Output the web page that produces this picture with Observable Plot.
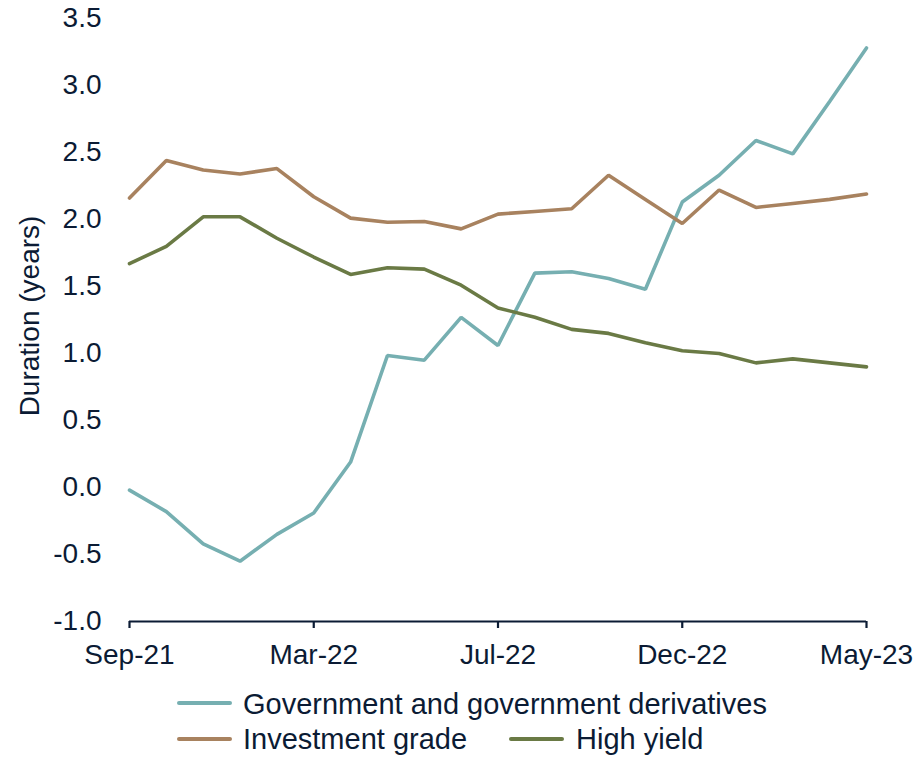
<!DOCTYPE html>
<html>
<head>
<meta charset="utf-8">
<script src="https://cdn.jsdelivr.net/npm/d3@7"></script>
<script src="https://cdn.jsdelivr.net/npm/@observablehq/plot@0.6"></script>
<style>
  html, body { margin: 0; padding: 0; background: #fff; }
  body { width: 923px; height: 757px; overflow: hidden; font-family: "Liberation Sans", Arial, sans-serif; color: #0B1B34; }
  #wrap { position: relative; width: 923px; height: 757px; }
  .legend { position: absolute; left: 0; top: 0; width: 923px; height: 757px; pointer-events: none; }
  .sw { position: absolute; height: 4px; border-radius: 2px; }
  .lt { position: absolute; font-size: 29px; line-height: 32px; white-space: nowrap; color: #0B1B34; }
</style>
</head>
<body>
<div id="wrap"></div>
<script>
const categories = ["Sep-21","Oct-21","Nov-21","Dec-21","Jan-22","Mar-22","Apr-22","May-22","Jun-22","Jun-22b","Jul-22","Aug-22","Sep-22","Oct-22","Nov-22","Dec-22","Jan-23","Feb-23","Mar-23","Apr-23","May-23"];
const tickIndex = [0, 5, 10, 15, 20];
const tickLabels = ["Sep-21", "Mar-22", "Jul-22", "Dec-22", "May-23"];
const yTicks = [-1.0, -0.5, 0.0, 0.5, 1.0, 1.5, 2.0, 2.5, 3.0, 3.5];

const government = [-0.02, -0.18, -0.42, -0.55, -0.35, -0.19, 0.19, 0.985, 0.95, 1.27, 1.06, 1.60, 1.61, 1.56, 1.48, 2.13, 2.33, 2.59, 2.49, 2.88, 3.28];
const investmentGrade = [2.16, 2.44, 2.37, 2.34, 2.38, 2.17, 2.01, 1.98, 1.985, 1.93, 2.04, 2.06, 2.08, 2.33, 2.15, 1.97, 2.22, 2.09, 2.12, 2.15, 2.19];
const highYield = [1.67, 1.80, 2.02, 2.02, 1.86, 1.72, 1.59, 1.64, 1.63, 1.51, 1.34, 1.27, 1.18, 1.15, 1.08, 1.02, 1.00, 0.93, 0.96, 0.93, 0.90];

const seriesNames = ["Government and government derivatives", "Investment grade", "High yield"];
const seriesColors = ["#76AFB1", "#A8825F", "#6A7A45"];
const seriesValues = [government, investmentGrade, highYield];

const data = [];
seriesValues.forEach((vals, s) => vals.forEach((v, i) => data.push({series: seriesNames[s], i, v})));

const navy = "#0B1B34";

const chart = Plot.plot({
  width: 923,
  height: 680,
  marginLeft: 129,
  marginRight: 57,
  marginTop: 18,
  marginBottom: 59,
  style: { fontFamily: "'Liberation Sans', Arial, sans-serif", fontSize: "28px", color: navy, background: "#fff" },
  x: { domain: [0, categories.length - 1] },
  y: { domain: [-1, 3.5] },
  color: { domain: seriesNames, range: seriesColors },
  marks: [
    Plot.axisY({ ticks: yTicks, tickSize: 0, tickPadding: 28, tickFormat: d => d.toFixed(1), label: null, fill: navy, fontSize: 28 }),
    Plot.text(["Duration (years)"], { frameAnchor: "left", rotate: -90, dx: -99, dy: -4, fill: navy, fontSize: 28, textAnchor: "middle", lineAnchor: "middle" }),
    Plot.line(data, { x: "i", y: "v", z: "series", stroke: "series", strokeWidth: 3.6, strokeLinejoin: "miter", curve: "linear" }),
    Plot.ruleY([-1], { stroke: navy, strokeWidth: 2.2 }),
    Plot.axisX({ ticks: tickIndex, tickFormat: (d) => tickLabels[tickIndex.indexOf(d)], tickSize: 7, tickPadding: 16, stroke: navy, strokeWidth: 2.2, fill: navy, fontSize: 28, label: null })
  ]
});

const wrap = document.getElementById("wrap");
wrap.appendChild(chart);

const legend = document.createElement("div");
legend.className = "legend";
const items = [
  { s: 0, sx: 177, sw: 55, tx: 243, y: 703, top: 688 },
  { s: 1, sx: 177, sw: 55, tx: 243, y: 739, top: 723 },
  { s: 2, sx: 509, sw: 55, tx: 576, y: 739, top: 723 }
];
items.forEach(it => {
  const sw = document.createElement("div");
  sw.className = "sw";
  sw.style.left = it.sx + "px";
  sw.style.width = it.sw + "px";
  sw.style.top = (it.y - 2) + "px";
  sw.style.background = seriesColors[it.s];
  legend.appendChild(sw);
  const t = document.createElement("div");
  t.className = "lt";
  t.style.left = it.tx + "px";
  t.style.top = it.top + "px";
  t.textContent = seriesNames[it.s];
  legend.appendChild(t);
});
wrap.appendChild(legend);
</script>
</body>
</html>
